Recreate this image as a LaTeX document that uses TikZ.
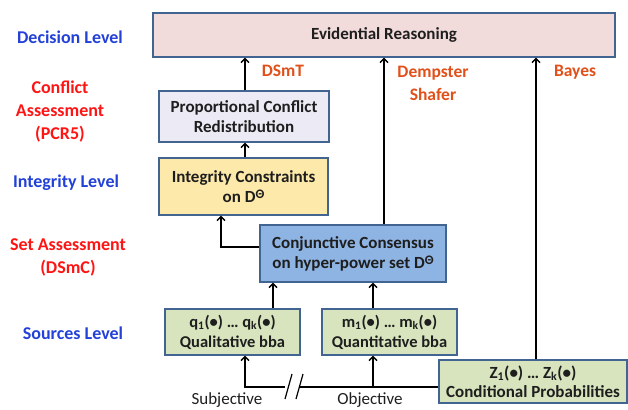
\documentclass[tikz,border=0pt]{standalone}
\usepackage{fontspec}
\setmainfont{Carlito}
\usetikzlibrary{arrows.meta}
\definecolor{bordc}{RGB}{65,100,145}
\definecolor{erfill}{RGB}{242,220,219}
\definecolor{pcrfill}{RGB}{236,234,244}
\definecolor{icfill}{RGB}{253,233,169}
\definecolor{ccfill}{RGB}{142,180,227}
\definecolor{srcfill}{RGB}{215,228,189}
\definecolor{lvblue}{RGB}{35,65,215}
\definecolor{lvred}{RGB}{255,20,20}
\definecolor{mthred}{RGB}{226,80,26}
\definecolor{txt}{RGB}{30,30,30}
\newcommand{\supTheta}{\raisebox{0.5ex}{\fontsize{13}{13}\selectfont Θ}}
\begin{document}
\begin{tikzpicture}[x=1pt,y=-1pt,
  box/.style={draw=bordc,line width=1.4pt,rectangle,align=center,inner sep=0pt,
    font=\fontsize{17}{20}\selectfont\bfseries,text=txt},
  srcbox/.style={box,fill=srcfill,font=\fontsize{16.5}{20}\selectfont\bfseries},
  lvb/.style={font=\fontsize{18}{23}\selectfont\bfseries,text=lvblue,align=center},
  lvr/.style={font=\fontsize{18}{23}\selectfont\bfseries,text=lvred,align=center},
  mth/.style={font=\fontsize{17.5}{23}\selectfont\bfseries,text=mthred,align=center},
  plain/.style={font=\fontsize{17}{19}\selectfont,text=txt},
  arr/.style={line width=1.6pt,-{Straight Barb[length=4pt,width=8pt,line width=1.4pt]}},
  ln/.style={line width=1.6pt}]
\useasboundingbox (0,0) rectangle (628,409);
% boxes
\node[box,fill=erfill,minimum width=462pt,minimum height=44pt] (er) at (384,35) {Evidential Reasoning};
\node[box,fill=pcrfill,minimum width=170pt,minimum height=51pt] (pcr) at (244,116.5) {Proportional Conflict\\Redistribution};
\node[box,fill=icfill,minimum width=169pt,minimum height=57pt] (ic) at (243.5,186.5) {Integrity Constraints\\on D\supTheta};
\node[box,fill=ccfill,minimum width=186pt,minimum height=57pt] (cc) at (353,253.5) {Conjunctive Consensus\\on hyper-power set D\supTheta};
\node[srcbox,minimum width=135pt,minimum height=46pt] (ql) at (232.5,332) {q\textsubscript{1}(\textbullet) … q\textsubscript{k}(\textbullet)\\Qualitative bba};
\node[srcbox,minimum width=135pt,minimum height=46pt] (qt) at (389.5,332) {m\textsubscript{1}(\textbullet) … m\textsubscript{k}(\textbullet)\\Quantitative bba};
\node[srcbox,font=\fontsize{17}{19}\selectfont\bfseries,minimum width=188pt,minimum height=43pt] (cp) at (533,381.5) {Z\textsubscript{1}(\textbullet) … Z\textsubscript{k}(\textbullet)\\Conditional Probabilities};
% level labels
\node[lvb] (l1) at (70,37) {Decision Level};
\node[lvr] (l2) at (60,112) {Conflict\\Assessment\\(PCR5)};
\node[lvb] (l3) at (66,183) {Integrity Level};
\node[lvr] (l4) at (68,257.5) {Set Assessment\\(DSmC)};
\node[lvb] (l5) at (73,333) {Sources Level};
% method labels
\node[mth] (m1) at (283,71) {DSmT};
\node[mth] (m2) at (433,83.5) {Dempster\\Shafer};
\node[mth] (m3) at (575,72) {Bayes};
% bottom labels
\node[plain] (sj) at (227,400) {Subjective};
\node[plain] (oj) at (370,400) {Objective};
% helper coordinates
\coordinate (xa) at (245,0);
\coordinate (xb) at (384,0);
\coordinate (xc) at (536,0);
\coordinate (xd) at (221,0);
\coordinate (xe) at (273,0);
\coordinate (xf) at (373,0);
\coordinate (bL) at (245,387);
\coordinate (bG1) at (285,387);
\coordinate (bG2) at (300,387);
\coordinate (bR) at (373,387);
% arrows
\draw[arr] (pcr.north -| xa) -- (er.south -| xa);
\draw[arr] (ic.north -| xa) -- (pcr.south -| xa);
\draw[arr] (cc.north -| xb) -- (er.south -| xb);
\draw[arr] (cp.north -| xc) -- (er.south -| xc);
\draw[arr] (cc.west |- 0,247) -| (ic.south -| xd);
\draw[arr] (ql.north -| xe) -- (cc.south -| xe);
\draw[arr] (qt.north -| xf) -- (cc.south -| xf);
\draw[arr] (bG1) -- (bL) -- (ql.south -| bL);
\draw[ln] (cp.west |- bG2) -- (bG2);
\draw[arr] (bR) -- (qt.south -| bR);
% break marks
\draw[line width=1.2pt] (285,399) -- (292,374);
\draw[line width=1.2pt] (296,399) -- (303,374);
\end{tikzpicture}
\end{document}
